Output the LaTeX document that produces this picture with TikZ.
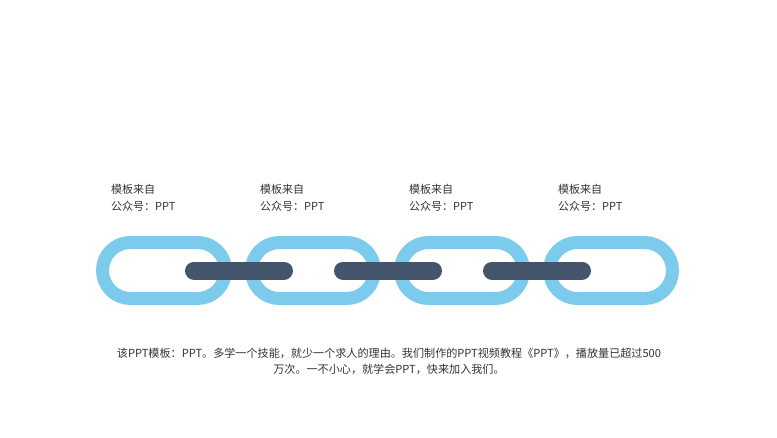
\documentclass[tikz,border=0pt]{standalone}
\usepackage{fontspec}
\setmainfont{Noto Sans CJK SC}
\usepackage{tikz}
\usetikzlibrary{calc}
\definecolor{linkBlue}{HTML}{7CCBEC}
\definecolor{barSlate}{HTML}{44546A}
\definecolor{textGray}{HTML}{333333}

\begin{document}
\begin{tikzpicture}[
  x=1pt, y=-1pt,
  chain link/.style={
    draw=linkBlue,
    line width=13pt,
    rounded corners=27.9pt,
    minimum width=123pt,
    minimum height=56pt,
    inner sep=0pt,
  },
  chain bar/.style={
    draw=barSlate,
    line width=18pt,
    line cap=round,
  },
  caption/.style={
    text=textGray,
    font=\fontsize{11}{16}\selectfont,
    inner sep=0pt,
  }
]
\useasboundingbox (0,0) rectangle (777,437);
\foreach \k in {1,...,4} {
  \node[chain link] (l\k) at ({164+149*(\k-1)},270.5) {};
  \node[caption,anchor=west] (t\k) at ($(l\k.center)+(-53,-81.5)$) {模板来自};
  \node[caption,anchor=west] (s\k) at ($(l\k.center)+(-53,-64.5)$) {公众号：PPT};
}
\foreach[evaluate=\k as \kpo using int(\k+1)] \k in {1,...,3} {
  \draw[chain bar] ($(l\k.center)+(30,0)$) -- ($(l\kpo.center)-(29,0)$);
}
\node[caption,align=center,font=\fontsize{11.1}{16}\selectfont] (body) at (389,361)
  {该PPT模板：PPT。多学一个技能，就少一个求人的理由。我们制作的PPT视频教程《PPT》，播放量已超过500\\
   万次。一不小心，就学会PPT，快来加入我们。};
\end{tikzpicture}
\end{document}
